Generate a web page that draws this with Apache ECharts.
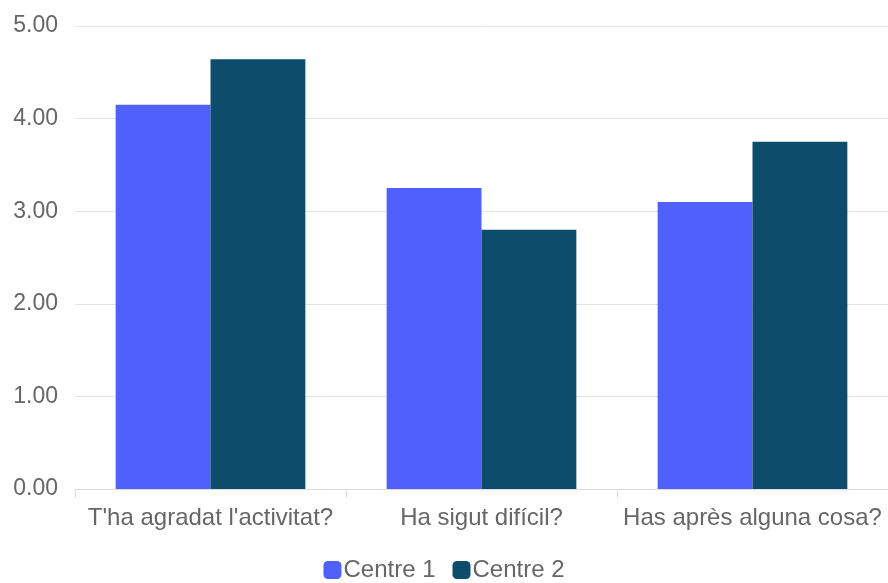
<!DOCTYPE html>
<html>
<head>
<meta charset="utf-8">
<script src="https://cdn.jsdelivr.net/npm/echarts@6/dist/echarts.min.js"></script>
<style>
    html, body { margin: 0; padding: 0; background: #fff; }
    #chart { width: 888px; height: 583px; }
</style>
</head>
<body>
<div id="chart"></div>
<script>
var categories = ["T'ha agradat l'activitat?", 'Ha sigut difícil?', 'Has après alguna cosa?'];
var centre1 = [4.15, 3.25, 3.10];
var centre2 = [4.64, 2.80, 3.75];

var myChart = echarts.init(document.getElementById('chart'));

var option = {
    textStyle: { fontFamily: 'Liberation Sans' },
    grid: {
        left: 75,
        right: 0,
        top: 26,
        bottom: 94
    },
    legend: {
        bottom: -4,
        left: 'center',
        itemWidth: 18,
        itemHeight: 18,
        itemGap: 17,
        icon: 'roundRect',
        textStyle: { fontSize: 24, color: '#666', padding: [0, 0, 0, -3] },
        data: ['Centre 1', 'Centre 2']
    },
    xAxis: {
        type: 'category',
        data: categories,
        axisLine: { lineStyle: { color: '#dcdcdc' } },
        axisTick: { show: true, length: 9, lineStyle: { color: '#dcdcdc' } },
        axisLabel: { interval: 0, fontSize: 24, color: '#666', margin: 17 }
    },
    yAxis: {
        type: 'value',
        min: 0,
        max: 5,
        interval: 1,
        axisLine: { show: false },
        axisTick: { show: false },
        splitLine: { lineStyle: { color: '#e4e4e4' } },
        axisLabel: {
            fontSize: 23,
            color: '#666',
            margin: 17,
            formatter: function (v) { return v.toFixed(2); }
        }
    },
    series: [
        {
            name: 'Centre 1',
            type: 'bar',
            data: centre1,
            barGap: '0%',
            barCategoryGap: '30%',
            itemStyle: { color: '#5060fc' }
        },
        {
            name: 'Centre 2',
            type: 'bar',
            data: centre2,
            itemStyle: { color: '#0e4c6c' }
        }
    ]
};
myChart.setOption(option);
</script>
</body>
</html>
